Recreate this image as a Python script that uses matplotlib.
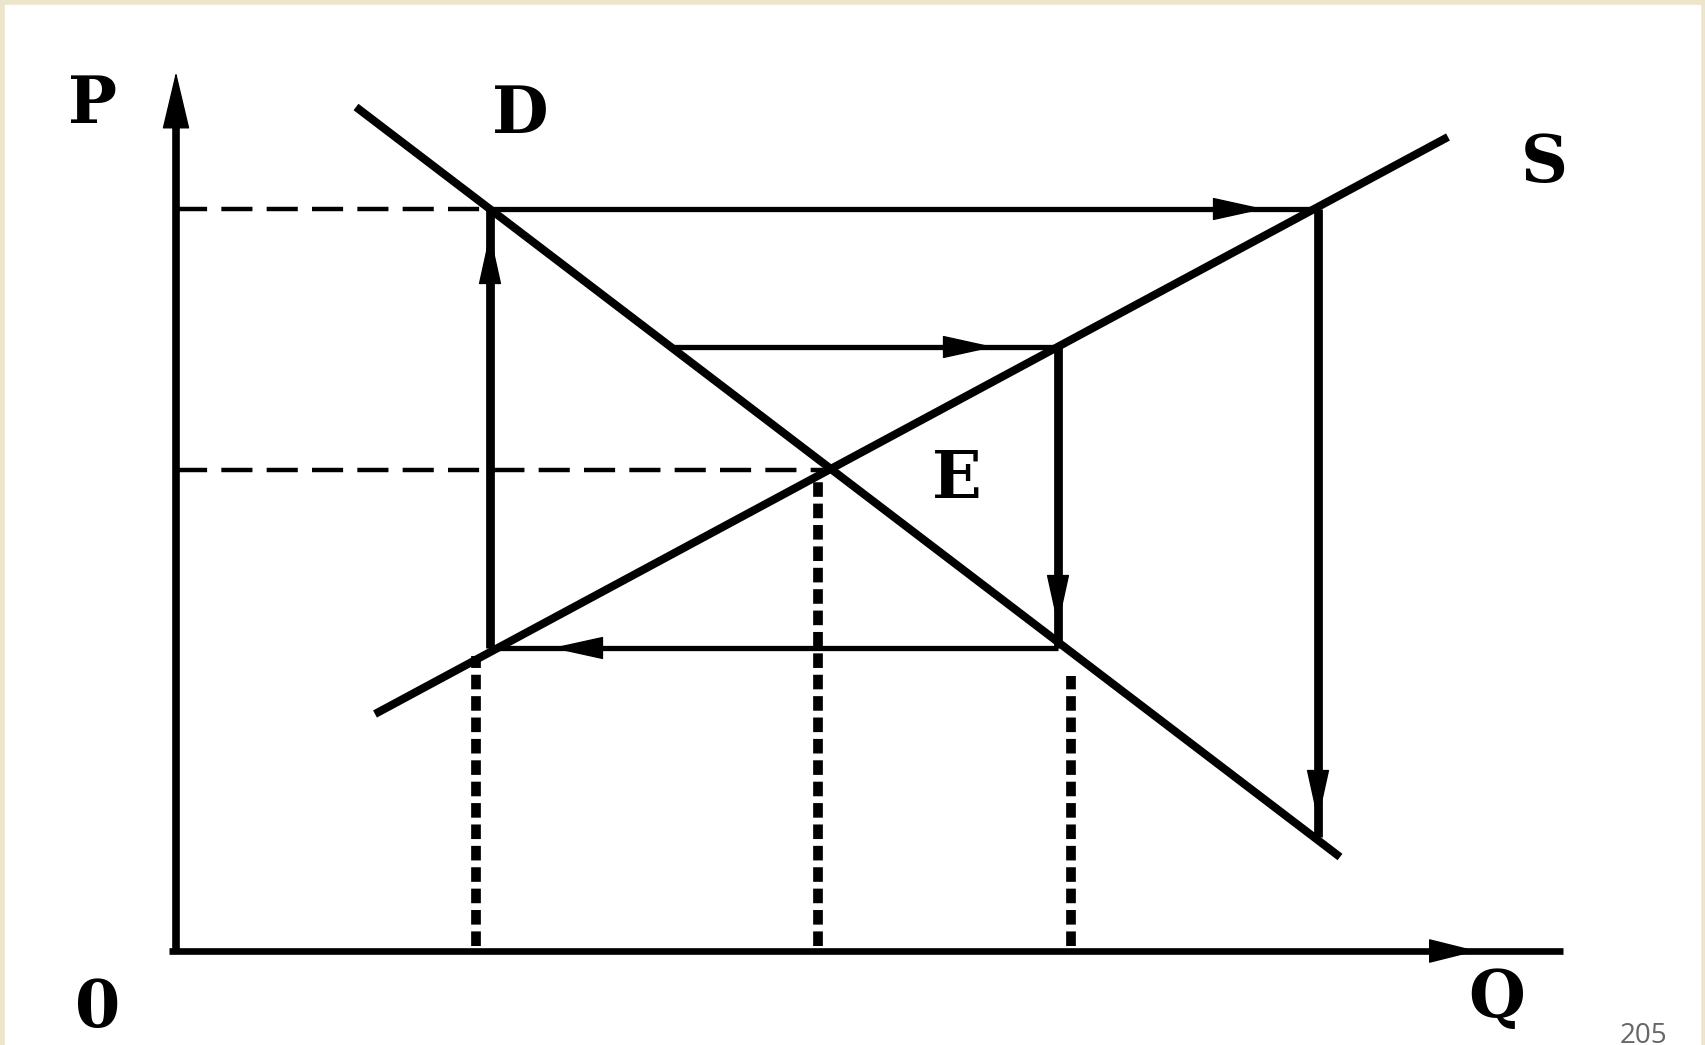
import matplotlib.pyplot as plt
from matplotlib.patches import Rectangle

# Cobweb model, units: Q along x, P along y
demand_q = [18.0, 116.4]
demand_p = [84.4, 9.4]
supply_q = [19.9, 127.2]
supply_p = [23.7, 81.4]
eq_q, eq_p = 65.2, 48.1

# price/quantity path of the cobweb (starts on D, alternates S / D)
web_q = [49.5, 88.2, 88.2, 31.4, 31.4, 114.2, 114.2]
web_p = [60.4, 60.4, 30.3, 30.3, 74.2, 74.2, 11.4]
# arrow tips placed on each leg of the path
arrow_tip_q = [81.8, 88.2, 37.6, 31.4, 108.8, 114.2]
arrow_tip_p = [60.4, 32.5, 30.3, 71.8, 74.2, 13.0]

# quantities dropped to the Q axis
drop_q = [30.0, 64.2, 89.5]
drop_top = [29.5, 47.5, 27.5]

q_axis_end = 138.7
p_axis_end = 87.9

labels = ['P', 'D', 'S', 'E', '0', 'Q']
label_q = [-8.4, 34.4, 136.8, 78.1, -7.8, 132.1]
label_p = [82.8, 81.8, 76.9, 45.3, -7.6, -6.6]
page_no = '205'

fig = plt.figure(figsize=(17.05, 10.45), dpi=100)
fig.patch.set_facecolor('#ECE5CB')
fig.patches.append(Rectangle((5 / 1705, 0), 1695 / 1705, 1040 / 1045,
                             transform=fig.transFigure, color='white', zorder=-5))
ax = fig.add_axes([0, 0, 1, 1])
ax.set_facecolor('none')
ax.set_xlim(-17.6, 152.9)
ax.set_ylim(-9.4, 95.1)
ax.axis('off')

k = 'black'

def head(tip, tail, hl=34, hw=7.5, lw=1):
    ax.annotate('', xy=tip, xytext=tail,
                arrowprops=dict(arrowstyle=f'-|>,head_length={hl},head_width={hw}',
                                mutation_scale=1, color=k, lw=lw,
                                shrinkA=0, shrinkB=0))

# axes
ax.plot([-0.7, q_axis_end], [0, 0], color=k, lw=4.8, solid_capstyle='butt')
ax.plot([0, 0], [-0.3, p_axis_end - 3], color=k, lw=5.5, solid_capstyle='butt')
head((0, p_axis_end), (0, p_axis_end - 6), hl=38, hw=9)
head((130.1, 0), (126.0, 0), hl=32, hw=8)

# demand and supply
ax.plot(demand_q, demand_p, color=k, lw=5.8, solid_capstyle='butt')
ax.plot(supply_q, supply_p, color=k, lw=5.8, solid_capstyle='butt')

# dashed price guides
ax.plot([0, web_q[3]], [web_p[4], web_p[4]], color=k, lw=3.2,
        linestyle=(0, (7, 3.2)))
ax.plot([0, eq_q], [eq_p, eq_p], color=k, lw=3.2, linestyle=(0, (7, 3.2)))

# thick dotted quantity drops
for q, top in zip(drop_q, drop_top):
    ax.plot([q, q], [0.5, top], color=k, lw=7.0, linestyle=(0, (1.5, 0.7)))

# cobweb path
for i in range(len(web_q) - 1):
    vertical = web_q[i] == web_q[i + 1]
    ax.plot(web_q[i:i + 2], web_p[i:i + 2], color=k,
            lw=6.3 if vertical else 3.8, solid_capstyle='butt')

# arrowheads along the path
for i, (tq, tp) in enumerate(zip(arrow_tip_q, arrow_tip_p)):
    dq = web_q[i + 1] - web_q[i]
    dp = web_p[i + 1] - web_p[i]
    n = (dq ** 2 + dp ** 2) ** 0.5
    head((tq, tp), (tq - 2 * dq / n, tp - 2 * dp / n))

for s, q, p in zip(labels, label_q, label_p):
    ax.text(q, p, s, fontsize=47, fontweight='bold', family='DejaVu Serif',
            ha='center', va='baseline', color=k)

# page number sits in the bottom right corner
ax.text(146.7, -9.2, page_no, fontsize=20, family='Open Sans', color='#666666',
        ha='center', va='baseline')

fig.savefig('out.png', dpi=100, facecolor=fig.get_facecolor())
